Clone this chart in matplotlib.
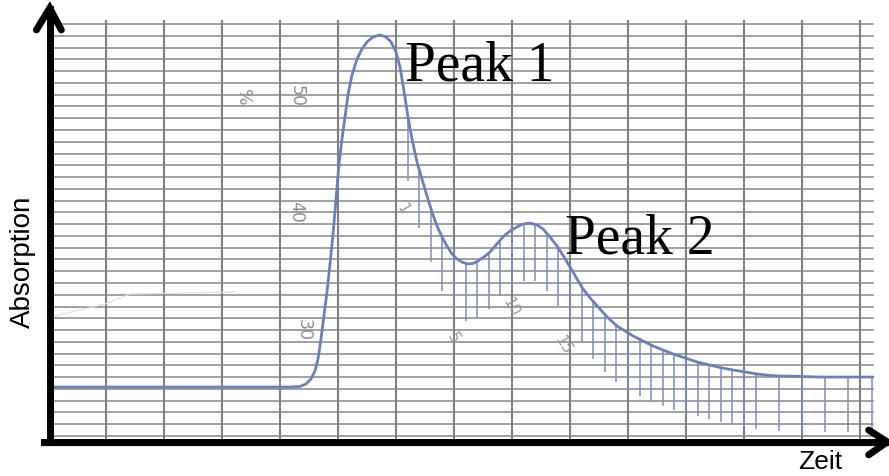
import numpy as np
import matplotlib.pyplot as plt

# pen trace of the chart recorder: time in chart divisions, signal in % of the paper scale
t = [0.0, 4.172, 4.345, 4.448, 4.534, 4.603, 4.655, 4.707, 4.759, 4.810,
     4.862, 4.914, 4.966, 5.017, 5.069, 5.121, 5.172, 5.241, 5.328, 5.414,
     5.500, 5.603, 5.724, 5.828, 5.914, 6.000, 6.069, 6.138, 6.207, 6.276,
     6.362, 6.448, 6.534, 6.621, 6.707, 6.793, 6.879, 6.966, 7.052, 7.138,
     7.241, 7.328, 7.414, 7.517, 7.621, 7.724, 7.845, 7.966, 8.086, 8.190,
     8.310, 8.431, 8.534, 8.655, 8.776, 8.897, 9.000, 9.121, 9.224, 9.362,
     9.517, 9.655, 9.810, 9.948, 10.086, 10.259, 10.431, 10.603, 10.776, 10.983,
     11.190, 11.414, 11.621, 11.810, 12.017, 12.224, 12.448, 12.621, 12.966, 13.310,
     13.828, 14.224]
signal = [25.16, 25.16, 25.21, 25.42, 25.84, 26.52, 27.54, 29.24, 31.28, 33.23,
          35.61, 38.16, 41.14, 44.11, 46.23, 48.10, 49.97, 51.67, 53.03, 53.88,
          54.48, 54.90, 55.07, 54.90, 54.48, 53.63, 52.35, 50.31, 48.10, 46.23,
          44.28, 42.84, 41.39, 40.03, 38.84, 37.91, 37.14, 36.46, 36.04, 35.78,
          35.61, 35.66, 35.87, 36.21, 36.63, 37.23, 37.91, 38.42, 38.76, 39.01,
          39.09, 38.93, 38.59, 37.91, 37.14, 36.21, 35.36, 34.34, 33.49, 32.64,
          31.79, 31.03, 30.35, 29.92, 29.50, 29.07, 28.65, 28.31, 27.97, 27.63,
          27.29, 27.03, 26.78, 26.61, 26.44, 26.27, 26.14, 26.10, 26.06, 26.01,
          26.01, 26.01]

# hand-drawn hatch strokes under the peaks (position and lower end)
hatch_t = [6.2, 6.4, 6.6, 6.8, 7.0, 7.2, 7.4, 7.6, 7.8, 8.0,
           8.2, 8.4, 8.6, 8.8, 9.0, 9.2, 9.4, 9.6, 9.8, 10.0,
           10.2, 10.4, 10.6, 10.8, 11.0, 11.2, 11.4, 11.6, 11.8, 12.0,
           12.2, 12.6, 13.0, 13.4, 13.8, 14.2]
hatch_low = [42.69, 38.67, 35.78, 33.32, 31.79, 30.77, 31.11, 31.79, 32.89, 33.49,
             34.17, 34.17, 33.32, 32.04, 30.52, 28.99, 27.54, 26.44, 25.59, 24.82,
             24.36, 23.89, 23.55, 23.21, 22.95, 22.70, 22.44, 22.19, 22.02, 21.76,
             21.59, 21.42, 21.34, 21.34, 21.34, 21.34]

# printed scale of the recorder paper
scale_labels = ['%', '50', '40', '30']
scale_t = [3.36, 4.28, 4.28, 4.41]
scale_y = [49.9, 49.97, 40.12, 30.09]
# minute marks written along the trace
minute_labels = ['1', '5', '10', '15']
minute_t = [6.12, 6.98, 7.99, 8.88]
minute_y = [40.4, 29.4, 32.0, 28.8]

grid_cols = np.arange(1, 15)
grid_rows = np.arange(21, 57)

fig = plt.figure(figsize=(8.89, 4.77), dpi=100)
ax = fig.add_axes([0, 0, 1, 1])
ax.set_xlim(-48 / 58, 841 / 58)
ax.set_ylim(21 - 40 / 11.77, 21 + 437 / 11.77)
ax.axis('off')

# paper grid
for r in grid_rows:
    ax.plot([0, 14.22], [r, r], color='#909090', lw=1.2, zorder=1)
for c in grid_cols:
    ax.plot([c, c], [20.5, 56.3], color='#808080', lw=1.5, zorder=1)

# faint pencil mark on the paper
ax.plot([0.03, 0.98, 1.41, 3.22], [31.11, 32.21, 33.06, 33.23],
        color='#e0e0e0', lw=0.9, zorder=1)

for s, x, y in zip(scale_labels, scale_t, scale_y):
    ax.text(x, y, s, rotation=-90, ha='center', va='center', fontsize=12.5,
            color='#8f8f8f', zorder=2)
for s, x, y in zip(minute_labels, minute_t, minute_y):
    ax.text(x, y, s, rotation=-60, ha='center', va='center', fontsize=11,
            color='#9a9a9a', zorder=2)

# hatching and trace
top = np.interp(hatch_t, t, signal)
ax.vlines(hatch_t, hatch_low, top, color='#7d8cb8', lw=1.1, zorder=3)
ax.plot(t, signal, color='#6c80b4', lw=2.0, zorder=4, solid_capstyle='round')

# axis arrows with a soft shadow
ax.plot([-0.03, 14.5], [20.3, 20.3], color='#d0d0d0', lw=4, alpha=0.6, zorder=4)
ax.plot([0.03, 0.03], [20.5, 57.3], color='black', lw=5, zorder=5)
ax.plot([-0.07, 14.45], [20.5, 20.5], color='black', lw=5, zorder=5)
ax.plot([-0.2, 0.03, 0.23], [55.5, 57.35, 55.5], color='black', lw=5,
        zorder=5, solid_joinstyle='miter', solid_capstyle='round')
ax.plot([14.15, 14.47, 14.15], [21.5, 20.5, 19.4], color='black', lw=5,
        zorder=5, solid_joinstyle='miter', solid_capstyle='round')

ax.text(6.155, 51.33, 'Peak 1', family='Liberation Serif', fontsize=40,
        va='baseline', ha='left', zorder=6)
ax.text(8.914, 36.63, 'Peak 2', family='Liberation Serif', fontsize=40,
        va='baseline', ha='left', zorder=6)
ax.text(-0.44, 35.87, 'Absorption', family='Liberation Sans', fontsize=20,
        rotation=90, ha='center', va='center')
ax.text(13.31, 18.3, 'Zeit', family='Liberation Sans', fontsize=19,
        ha='center', va='baseline')

fig.savefig('out.png', dpi=100)
